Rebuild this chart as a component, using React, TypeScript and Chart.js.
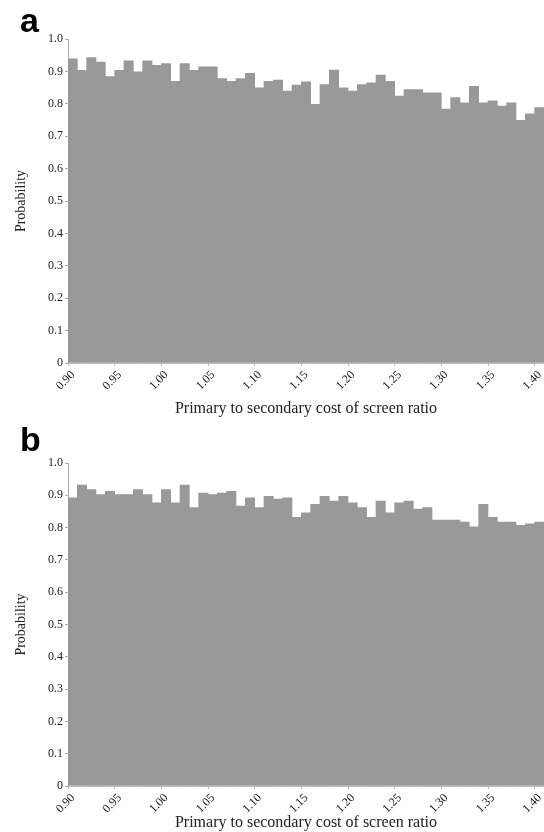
import React, { useEffect, useRef } from 'react';
import { Chart, registerables } from 'chart.js';

Chart.register(...registerables);

const binLabels = [
  '0.90', '0.91', '0.92', '0.93', '0.94', '0.95', '0.96', '0.97', '0.98', '0.99',
  '1.00', '1.01', '1.02', '1.03', '1.04', '1.05', '1.06', '1.07', '1.08', '1.09',
  '1.10', '1.11', '1.12', '1.13', '1.14', '1.15', '1.16', '1.17', '1.18', '1.19',
  '1.20', '1.21', '1.22', '1.23', '1.24', '1.25', '1.26', '1.27', '1.28', '1.29',
  '1.30', '1.31', '1.32', '1.33', '1.34', '1.35', '1.36', '1.37', '1.38', '1.39',
  '1.40',
];

const panelAValues = [
  0.939, 0.903, 0.943, 0.929, 0.884, 0.903, 0.933, 0.899, 0.933, 0.919,
  0.924, 0.869, 0.924, 0.903, 0.914, 0.914, 0.878, 0.869, 0.878, 0.894,
  0.849, 0.869, 0.873, 0.839, 0.858, 0.868, 0.798, 0.859, 0.904, 0.849,
  0.839, 0.859, 0.865, 0.889, 0.869, 0.824, 0.844, 0.844, 0.834, 0.834,
  0.784, 0.819, 0.803, 0.854, 0.803, 0.809, 0.793, 0.803, 0.749, 0.769,
  0.788,
];

const panelBValues = [
  0.892, 0.932, 0.918, 0.902, 0.912, 0.902, 0.902, 0.918, 0.902, 0.877,
  0.918, 0.877, 0.932, 0.862, 0.907, 0.902, 0.907, 0.912, 0.867, 0.892,
  0.862, 0.897, 0.888, 0.892, 0.832, 0.846, 0.872, 0.897, 0.882, 0.897,
  0.877, 0.862, 0.832, 0.882, 0.846, 0.877, 0.882, 0.857, 0.862, 0.823,
  0.823, 0.823, 0.817, 0.802, 0.872, 0.832, 0.817, 0.817, 0.807, 0.812,
  0.817,
];

const xTickValues = [0.9, 0.95, 1.0, 1.05, 1.1, 1.15, 1.2, 1.25, 1.3, 1.35, 1.4];
const yTickValues = [0, 0.1, 0.2, 0.3, 0.4, 0.5, 0.6, 0.7, 0.8, 0.9, 1.0];

const xTitle = 'Primary to secondary cost of screen ratio';
const yTitle = 'Probability';

const SERIF = '"Liberation Serif", "Times New Roman", serif';

type PanelProps = {
  values: number[];
  letter: string;
  top: number;
  height: number;
  topPad: number;
  axisHeight: number;
  letterTop: number;
};

function Panel({ values, letter, top, height, topPad, axisHeight, letterTop }: PanelProps) {
  const ref = useRef<HTMLCanvasElement | null>(null);
  useEffect(() => {
    if (!ref.current) return;
    const chart = new Chart(ref.current, {
      type: 'bar',
      data: {
        labels: binLabels,
        datasets: [
          {
            data: values,
            backgroundColor: '#999999',
            borderWidth: 0,
            barPercentage: 1,
            categoryPercentage: 1,
            xAxisID: 'x',
            yAxisID: 'y',
          },
        ],
      },
      options: {
        responsive: false,
        animation: false,
        layout: { padding: { top: topPad, left: 0, right: 0, bottom: 0 } },
        plugins: { legend: { display: false }, tooltip: { enabled: false } },
        scales: {
          x: { type: 'category', display: false, offset: true },
          xt: {
            type: 'linear',
            position: 'bottom',
            offset: false,
            min: 0.9,
            max: 1.41,
            afterBuildTicks: (s: any) => {
              s.ticks = xTickValues.map((v) => ({ value: v }));
            },
            afterFit: (s: any) => {
              s.height = axisHeight;
              s.paddingLeft = 0;
              s.paddingRight = 0;
            },
            ticks: {
              autoSkip: false,
              minRotation: 45,
              maxRotation: 45,
              padding: 2,
              labelOffset: 5,
              color: '#222',
              font: { family: SERIF, size: 12 },
              callback: (v: any) => Number(v).toFixed(2),
            },
            grid: { offset: false, drawOnChartArea: false, drawTicks: true, tickLength: 3, color: '#bbbbbb' },
            border: { color: '#bbbbbb' },
            title: {
              display: true,
              text: xTitle,
              color: '#222',
              font: { family: SERIF, size: 16 },
              padding: 0,
            },
          },
          y: {
            type: 'linear',
            min: 0,
            max: 1,
            afterBuildTicks: (s: any) => {
              s.ticks = yTickValues.map((v) => ({ value: v }));
            },
            afterFit: (s: any) => {
              s.width = 68;
            },
            ticks: {
              padding: 2,
              color: '#222',
              font: { family: SERIF, size: 12 },
              callback: (v: any) => (Number(v) === 0 ? '0' : Number(v).toFixed(1)),
            },
            grid: { drawOnChartArea: false, drawTicks: true, tickLength: 3, color: '#aaaaaa' },
            border: { color: '#aaaaaa' },
            title: {
              display: true,
              text: yTitle,
              color: '#222',
              font: { family: SERIF, size: 14 },
              padding: { top: 13, bottom: 0 },
            },
          },
        },
      },
    });
    return () => chart.destroy();
  }, [values, topPad, axisHeight]);
  return (
    <div style={{ position: 'absolute', left: 0, top, width: 544, height }}>
      <canvas ref={ref} width={544} height={height} style={{ display: 'block' }} />
      <span
        style={{
          position: 'absolute',
          left: 20,
          top: letterTop,
          font: 'bold 34px "Liberation Sans", Arial, sans-serif',
          lineHeight: '34px',
          color: '#000',
        }}
      >
        {letter}
      </span>
    </div>
  );
}

export default function App() {
  return (
    <div style={{ position: 'absolute', left: 0, top: 0, width: 544, height: 832, background: '#fff' }}>
      <Panel values={panelAValues} letter="a" top={0} height={418} topPad={39} axisHeight={55} letterTop={3} />
      <Panel values={panelBValues} letter="b" top={416} height={416} topPad={47} axisHeight={46} letterTop={6} />
    </div>
  );
}
